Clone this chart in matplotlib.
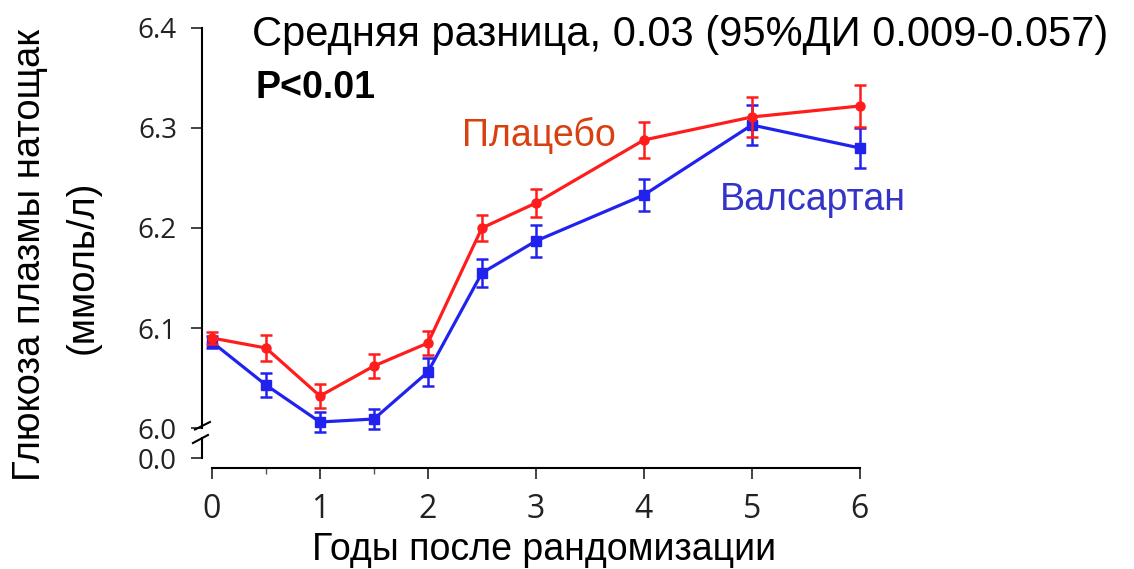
import matplotlib
matplotlib.use('Agg')
import matplotlib.pyplot as plt
import matplotlib.transforms as mtransforms
import numpy as np

######### DADOS #########

years = [0, 0.5, 1, 1.5, 2, 2.5, 3, 4, 5, 6]

placebo = [6.090, 6.080, 6.032, 6.062, 6.085, 6.200, 6.225, 6.288, 6.311, 6.322]
placebo_err = [0.006, 0.013, 0.012, 0.012, 0.012, 0.013, 0.014, 0.018, 0.020, 0.021]

valsartan = [6.086, 6.043, 6.006, 6.009, 6.056, 6.155, 6.187, 6.233, 6.303, 6.280]
valsartan_err = [0.006, 0.012, 0.010, 0.010, 0.014, 0.014, 0.016, 0.016, 0.020, 0.020]

ytick_vals = [5.970, 6.0, 6.1, 6.2, 6.3, 6.4]
ytick_labels = ['0.0', '6.0', '6.1', '6.2', '6.3', '6.4']
xtick_vals = [0, 1, 2, 3, 4, 5, 6]
xminor_vals = [0.5, 1.5]

title_txt = 'Средняя разница, 0.03 (95%ДИ 0.009-0.057)'
p_txt = 'P<0.01'
ylabel1 = 'Глюкоза плазмы натощак'
ylabel2 = '(ммоль/л)'
xlabel_txt = 'Годы после рандомизации'

######### FIGURA #########

plt.rcParams['font.family'] = ['Liberation Sans', 'DejaVu Sans']

fig = plt.figure(figsize=(11.34, 5.69), dpi=100)
ax = fig.add_axes([0.1781, 0.1775, 0.5944, 0.7733])

red = '#ff1c1c'
blue = '#2222ee'

ax.errorbar(years, placebo, yerr=placebo_err, color=red, lw=2.3, marker='o', ms=6.5,
            elinewidth=1.8, capsize=4.5, capthick=1.8, zorder=3)
ax.errorbar(years, valsartan, yerr=valsartan_err, color=blue, lw=2.3, marker='s', ms=6.5,
            elinewidth=1.8, capsize=4.5, capthick=1.8, zorder=2)

ax.set_xlim(-0.0926, 6.15)
ax.set_ylim(5.960, 6.4)

for s in ['top', 'right']:
    ax.spines[s].set_visible(False)
ax.spines['left'].set_bounds(6.0, 6.4)
ax.spines['bottom'].set_bounds(0, 6)
ax.spines['left'].set_linewidth(1.5)
ax.spines['bottom'].set_linewidth(1.5)

ax.set_yticks(ytick_vals)
ax.set_yticklabels(ytick_labels)
ax.set_xticks(xtick_vals)
ax.set_xticks(xminor_vals, minor=True)
ax.tick_params(axis='both', which='major', length=8, width=1.2, color='#222222')
ax.tick_params(axis='x', which='minor', length=4, width=1.0, color='#555555')
ax.tick_params(axis='y', labelsize=20, pad=10)
ax.tick_params(axis='x', labelsize=23, pad=10)
for lab in ax.get_xticklabels() + ax.get_yticklabels():
    lab.set_family(['Open Sans', 'DejaVu Sans'])
    lab.set_color('#222222')

# quebra do eixo y
trans = mtransforms.blended_transform_factory(ax.transAxes, ax.transData)
ax.plot([0, 0], [5.970, 5.990], transform=trans, clip_on=False, color='k', lw=1.5)
d = 1 / 674
ax.plot([-7 * d, 8 * d], [5.9985, 6.006], transform=trans, clip_on=False, color='k', lw=1.5)
ax.plot([-9 * d, 6 * d], [5.985, 5.993], transform=trans, clip_on=False, color='k', lw=1.5)

# textos
fig.text(0.2222, 0.9385, title_txt, fontsize=30, va='center', ha='left', color='black')
fig.text(0.2249, 0.845, p_txt, fontsize=27, fontweight='bold', va='center', ha='left')
fig.text(0.4074, 0.7627, 'Плацебо', fontsize=27, color='#d8400f', va='center', ha='left')
fig.text(0.635, 0.6485, 'Валсартан', fontsize=27, color='#3434c8', va='center', ha='left')
fig.text(0.4797, 0.0334, xlabel_txt, fontsize=27, va='center', ha='center')
fig.text(0.0265, 0.552, ylabel1, fontsize=27.5, rotation=90, va='center', ha='center')
fig.text(0.0732, 0.531, ylabel2, fontsize=27.5, rotation=90, va='center', ha='center')

plt.savefig('out.png', dpi=100)
